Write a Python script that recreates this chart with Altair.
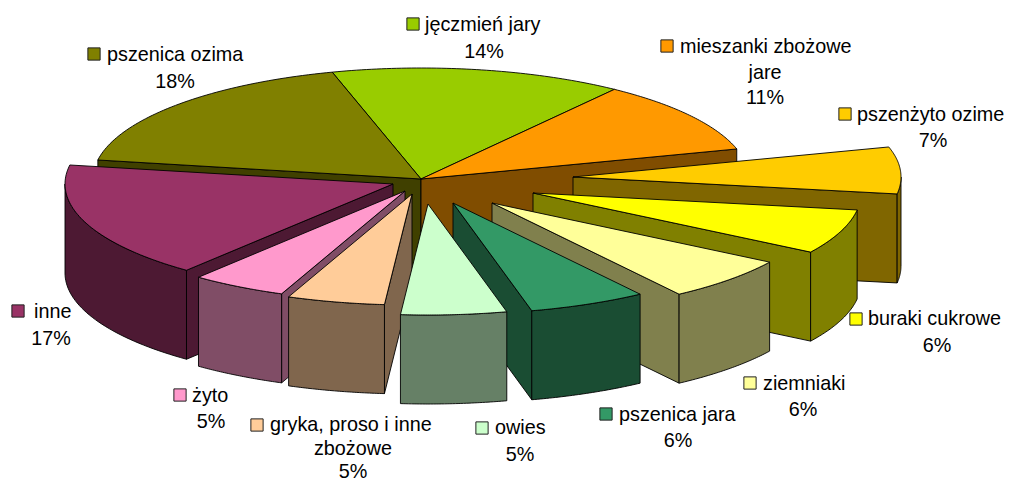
import numpy as np
import pandas as pd
import altair as alt

# Slice data, clockwise from the first slice
names = ["jęczmień jary", "mieszanki zbożowe jare", "pszenżyto ozime", "buraki cukrowe",
         "ziemniaki", "pszenica jara", "owies", "gryka, proso i inne zbożowe",
         "żyto", "inne", "pszenica ozima"]
labels_pct = [14, 11, 7, 6, 6, 6, 5, 5, 5, 17, 18]
shares = [14.4, 10.6, 6.8, 6.5, 6.4, 5.8, 5.2, 4.8, 4.7, 16.9, 17.9]
top_colors = ["#99CC00", "#FF9900", "#FFCC00", "#FFFF00", "#FFFF99", "#339966",
              "#CCFFCC", "#FFCC99", "#FF99CC", "#993366", "#808000"]
side_colors = ["#4D6600", "#804D00", "#806600", "#808000", "#80804D", "#1A4D33",
               "#668066", "#80664D", "#804D66", "#4D1933", "#404000"]

# Layout of the exploded pie (image pixels)
START = -15.7
RX, RY, DEPTH = 328, 111, 89
apex = [(421, 179), (421, 179), (573, 177), (533, 193), (492, 203), (453, 203),
        (428, 204), (412, 194), (405, 191), (393, 184), (421, 179)]
paint_order = [0, 10, 1, 2, 3, 4, 9, 8, 7, 5, 6]

edges = START + np.concatenate([[0], np.cumsum(shares)]) * 360 / sum(shares)


def rim_point(i, deg, drop=0):
    t = np.radians(deg)
    return [float(apex[i][0] + RX * np.sin(t)), float(apex[i][1] - RY * np.cos(t) + drop)]


def feature(points, fill):
    ring = [list(p) for p in points] + [list(points[0])]
    return {"type": "Feature", "properties": {"fill": fill},
            "geometry": {"type": "Polygon", "coordinates": [ring]}}


features = []
for i in paint_order:
    a0, a1 = edges[i], edges[i + 1]
    ax, ay = apex[i]
    side = side_colors[i]
    if np.sin(np.radians(a0)) < 0:
        p = rim_point(i, a0)
        features.append(feature([[ax, ay], p, [p[0], p[1] + DEPTH], [ax, ay + DEPTH]], side))
    if np.sin(np.radians(a1)) > 0:
        p = rim_point(i, a1)
        features.append(feature([[ax, ay], p, [p[0], p[1] + DEPTH], [ax, ay + DEPTH]], side))
    lo, hi = max(a0, 90), min(a1, 270)
    if hi > lo:
        arc = np.linspace(lo, hi, 40)
        upper = [rim_point(i, d) for d in arc]
        lower = [rim_point(i, d, DEPTH) for d in arc[::-1]]
        features.append(feature(upper + lower, side))
    arc = np.linspace(a0, a1, 60)
    features.append(feature([[ax, ay]] + [rim_point(i, d) for d in arc], top_colors[i]))

# Label layout: (swatch x, swatch y, text x, first baseline)
first_lines = ["jęczmień jary", "mieszanki zbożowe", "pszenżyto ozime", "buraki cukrowe",
               "ziemniaki", "pszenica jara", "owies", "gryka, proso i inne",
               "żyto", "inne", "pszenica ozima"]
swatch_x = [413, 667, 845, 856, 750, 606, 482, 257, 180, 18, 94]
swatch_y = [24, 46, 114, 319, 383, 414, 428, 425, 395, 311, 54]
first_x = [425, 680, 857, 868, 763, 619, 495, 270, 192, 34, 107]
first_y = [31, 53, 121, 325, 390, 421, 434, 431, 402, 318, 61]
pct_x = [484, 765, 933, 937, 803, 678, 520, 353, 211, 51, 175]
pct_y = [58, 104, 147, 352, 416, 447, 461, 478, 428, 345, 88]
middle_lines = [("jare", 765, 79), ("zbożowe", 353, 455)]

OFF = 8
swatches = pd.DataFrame({"x": np.array(swatch_x) - OFF, "y": np.array(swatch_y) - OFF, "c": top_colors})
left_text = pd.DataFrame({"x": np.array(first_x) - OFF, "y": np.array(first_y) - OFF, "t": first_lines})
center_text = pd.DataFrame({
    "x": [p - OFF for p in pct_x] + [m[1] - OFF for m in middle_lines],
    "y": [p - OFF for p in pct_y] + [m[2] - OFF for m in middle_lines],
    "t": [f"{v}%" for v in labels_pct] + [m[0] for m in middle_lines],
})

FONT = "Liberation Sans"
SIZE = 19.8
X = alt.X("x:Q", scale=None, axis=None)
Y = alt.Y("y:Q", scale=None, axis=None)

pie = (alt.Chart(alt.Data(values=features))
       .mark_geoshape(stroke="#000000", strokeWidth=0.9, strokeJoin="miter")
       .encode(color=alt.Color("properties.fill:N", scale=None))
       .project(type="identity", scale=1, translate=[-OFF, -OFF]))
sw = (alt.Chart(swatches)
      .mark_square(size=150, opacity=1, stroke="#222222", strokeWidth=1)
      .encode(x=X, y=Y, color=alt.Color("c:N", scale=None)))
lt = (alt.Chart(left_text)
      .mark_text(align="left", baseline="alphabetic", font=FONT, fontSize=SIZE, color="#000000")
      .encode(x=X, y=Y, text="t:N"))
ct = (alt.Chart(center_text)
      .mark_text(align="center", baseline="alphabetic", font=FONT, fontSize=SIZE, color="#000000")
      .encode(x=X, y=Y, text="t:N"))

chart = (alt.layer(pie, sw, lt, ct)
         .properties(width=997, height=475, padding=0, autosize="none", background="white")
         .configure_view(stroke=None))
chart.save("out.html", embed_options={"renderer": "svg", "actions": False})
